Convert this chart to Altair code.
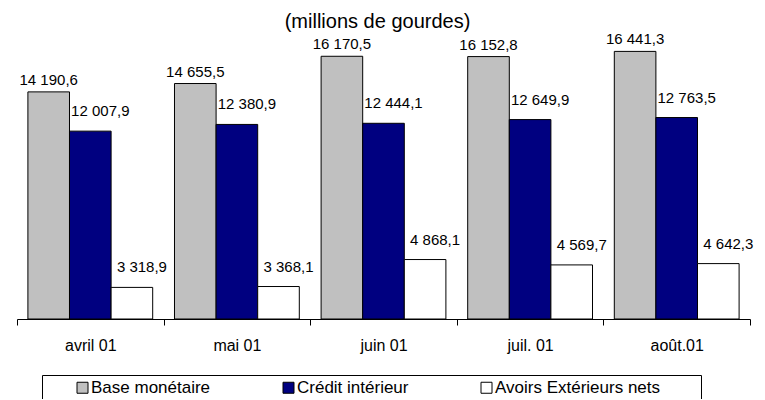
import altair as alt
import pandas as pd

months = ["avril 01", "mai 01", "juin 01", "juil. 01", "août.01"]
series = ["Base monétaire", "Crédit intérieur", "Avoirs Extérieurs nets"]
base_monetaire = [14190.6, 14655.5, 16170.5, 16152.8, 16441.3]
credit_interieur = [12007.9, 12380.9, 12444.1, 12649.9, 12763.5]
avoirs_ext = [3318.9, 3368.1, 4868.1, 4569.7, 4642.3]
colors = ["#C0C0C0", "#000080", "#FFFFFF"]

rows = []
for s, vals in zip(series, [base_monetaire, credit_interieur, avoirs_ext]):
    for m, v in zip(months, vals):
        lbl = f"{v:,.1f}".replace(",", " ").replace(".", ",")
        rows.append({"mois": m, "serie": s, "valeur": v, "label": lbl})
df = pd.DataFrame(rows)

FONT = "Liberation Sans"
YMIN, YMAX = 1562, 18243
PAD = "\u2800" * 3

x_enc = alt.X("mois:N", sort=months, title=None,
              scale=alt.Scale(paddingInner=0, paddingOuter=0),
              axis=alt.Axis(labelAngle=0, labelFont=FONT, labelFontSize=16,
                            labelColor="black", domainColor="black",
                            tickColor="black", tickSize=6, tickBand="extent",
                            labelPadding=12, domainWidth=1))
xo_enc = alt.XOffset("serie:N", sort=series,
                     scale=alt.Scale(paddingInner=0, paddingOuter=0.262))
y_scale = alt.Scale(domain=[YMIN, YMAX], zero=False, nice=False, clamp=True)

base = alt.Chart(df)

bars = base.mark_bar(stroke="black", strokeWidth=1).encode(
    x=x_enc,
    xOffset=xo_enc,
    y=alt.Y("valeur:Q", scale=y_scale, axis=None),
    y2=alt.datum(YMIN),
    color=alt.Color("serie:N", sort=series,
                    scale=alt.Scale(domain=series, range=colors),
                    legend=alt.Legend(
                        title=None, orient="none", direction="horizontal",
                        legendX=25, legendY=356,
                        labelFont=FONT, labelFontSize=17, labelColor="black",
                        labelExpr="datum.label == '" + series[2] + "' ? datum.label + '" + PAD + "' : datum.label",
                        symbolType="square", symbolSize=121,
                        symbolStrokeColor="black", symbolStrokeWidth=1,
                        symbolOpacity=1, symbolOffset=28,
                        strokeColor="black", padding=4,
                        columnPadding=41, labelOffset=0,
                        labelLimit=400)),
)

txt_gray = base.transform_filter(alt.datum.serie == series[0]).mark_text(
    font=FONT, fontSize=15, color="black", dy=-12, baseline="middle"
).encode(x=alt.X("mois:N", sort=months), xOffset=xo_enc,
         y=alt.Y("valeur:Q", scale=y_scale), text="label:N")

txt_other = base.transform_filter(alt.datum.serie != series[0]).mark_text(
    font=FONT, fontSize=15, color="black", dy=-20, dx=10, baseline="middle"
).encode(x=alt.X("mois:N", sort=months), xOffset=xo_enc,
         y=alt.Y("valeur:Q", scale=y_scale), text="label:N")

chart = alt.layer(bars, txt_gray, txt_other).properties(
    width=733, height=300,
    title=alt.TitleParams("(millions de gourdes)", font=FONT, fontSize=20,
                          fontWeight="normal", color="black", anchor="middle",
                          offset=-13, dx=-6),
    autosize=alt.AutoSizeParams(type="none"),
    padding={"left": 9, "top": 11, "right": 7, "bottom": 80},
).configure_view(stroke=None)

chart.save("out.html", embed_options={"renderer": "svg", "actions": False})
